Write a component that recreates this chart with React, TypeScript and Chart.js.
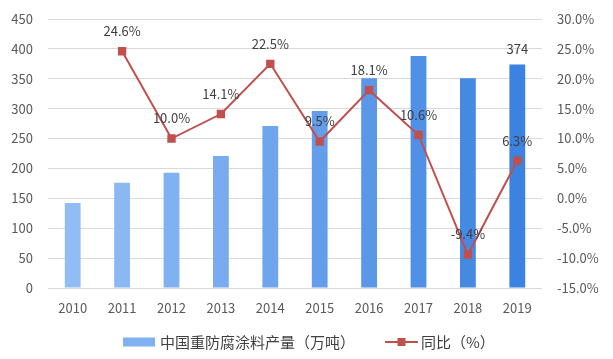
import React, { useEffect, useRef } from "react";
import { Chart, registerables } from "chart.js";

Chart.register(...registerables);

const years = ["2010", "2011", "2012", "2013", "2014", "2015", "2016", "2017", "2018", "2019"];
const output = [142, 176, 193, 221, 271, 296, 351, 388, 351, 374];
const growth = [null, 24.6, 10.0, 14.1, 22.5, 9.5, 18.1, 10.6, -9.4, 6.3];
const barColors = [
  "#92bdf4", "#8ab8f3", "#80b2f1", "#78acef", "#6ea5ed",
  "#649eeb", "#5a97e9", "#5090e6", "#4689e3", "#3c82e1",
];
const barLegend = "中国重防腐涂料产量（万吨）";
const lineLegend = "同比（%）";
const FONT = "'Noto Sans CJK SC', 'DejaVu Sans', sans-serif";

const labelPlugin = {
  id: "labels",
  afterDatasetsDraw(chart: any) {
    const ctx = chart.ctx;
    ctx.save();
    ctx.font = `13px ${FONT}`;
    ctx.fillStyle = "#404040";
    ctx.textAlign = "center";
    ctx.textBaseline = "middle";
    const lineMeta = chart.getDatasetMeta(1);
    lineMeta.data.forEach((pt: any, i: number) => {
      const v = growth[i];
      if (v === null) return;
      ctx.fillText(v.toFixed(1) + "%", pt.x, pt.y - 20);
    });
    const barMeta = chart.getDatasetMeta(0);
    const last = barMeta.data[barMeta.data.length - 1];
    ctx.fillText(String(output[output.length - 1]), last.x, last.y - 15);

    // legend
    const ly = 342;
    ctx.fillStyle = barColors[2];
    ctx.fillRect(123, ly - 4.5, 32, 9);
    ctx.font = `15px ${FONT}`;
    ctx.fillStyle = "#404040";
    ctx.textAlign = "left";
    ctx.fillText(barLegend, 160, ly);
    ctx.strokeStyle = "#c0504d";
    ctx.lineWidth = 2;
    ctx.beginPath();
    ctx.moveTo(385, ly);
    ctx.lineTo(418, ly);
    ctx.stroke();
    ctx.fillStyle = "#c0504d";
    ctx.fillRect(401.5 - 4, ly - 4, 8, 8);
    ctx.fillStyle = "#404040";
    ctx.fillText(lineLegend, 421, ly);
    ctx.restore();
  },
};

export default function App() {
  const ref = useRef<HTMLCanvasElement>(null);
  useEffect(() => {
    const chart = new Chart(ref.current!, {
      type: "bar",
      data: {
        labels: years,
        datasets: [
          {
            type: "bar",
            label: barLegend,
            data: output,
            backgroundColor: barColors,
            yAxisID: "y",
            barPercentage: 0.32,
            categoryPercentage: 1,
            order: 2,
          },
          {
            type: "line",
            label: lineLegend,
            data: growth as any,
            borderColor: "#c0504d",
            backgroundColor: "#c0504d",
            borderWidth: 2,
            pointStyle: "rect",
            pointRadius: 4.5,
            pointBackgroundColor: "#c0504d",
            pointBorderColor: "#c0504d",
            yAxisID: "y1",
            order: 1,
            spanGaps: false,
          },
        ],
      },
      options: {
        responsive: false,
        animation: false,
        layout: { padding: { top: 19, bottom: 0, left: 0, right: 0 } },
        plugins: { legend: { display: false }, tooltip: { enabled: false } },
        scales: {
          x: {
            grid: { display: false, drawTicks: false },
            border: { display: false },
            ticks: { color: "#595959", font: { size: 13, family: FONT }, padding: 12 },
            afterFit: (s: any) => { s.height = 71; },
          },
          y: {
            position: "left",
            min: 0,
            max: 450,
            grid: { color: "#d9d9d9", drawTicks: false },
            border: { display: false },
            ticks: { stepSize: 50, color: "#595959", font: { size: 13, family: FONT }, padding: 15 },
            afterFit: (s: any) => { s.width = 48; s.paddingTop = 0; s.paddingBottom = 0; },
          },
          y1: {
            position: "right",
            min: -15,
            max: 30,
            grid: { display: false, drawTicks: false },
            border: { display: false },
            ticks: {
              stepSize: 5,
              color: "#595959",
              font: { size: 13, family: FONT },
              padding: 15,
              callback: (v: any) => Number(v).toFixed(1) + "%",
            },
            afterFit: (s: any) => { s.width = 71; s.paddingTop = 0; s.paddingBottom = 0; },
          },
        },
      },
      plugins: [labelPlugin],
    });
    return () => chart.destroy();
  }, []);
  return (
    <div style={{ position: "fixed", left: 0, top: 0, width: 613, height: 359, background: "#fff" }}>
      <canvas ref={ref} width={613} height={359} />
    </div>
  );
}
